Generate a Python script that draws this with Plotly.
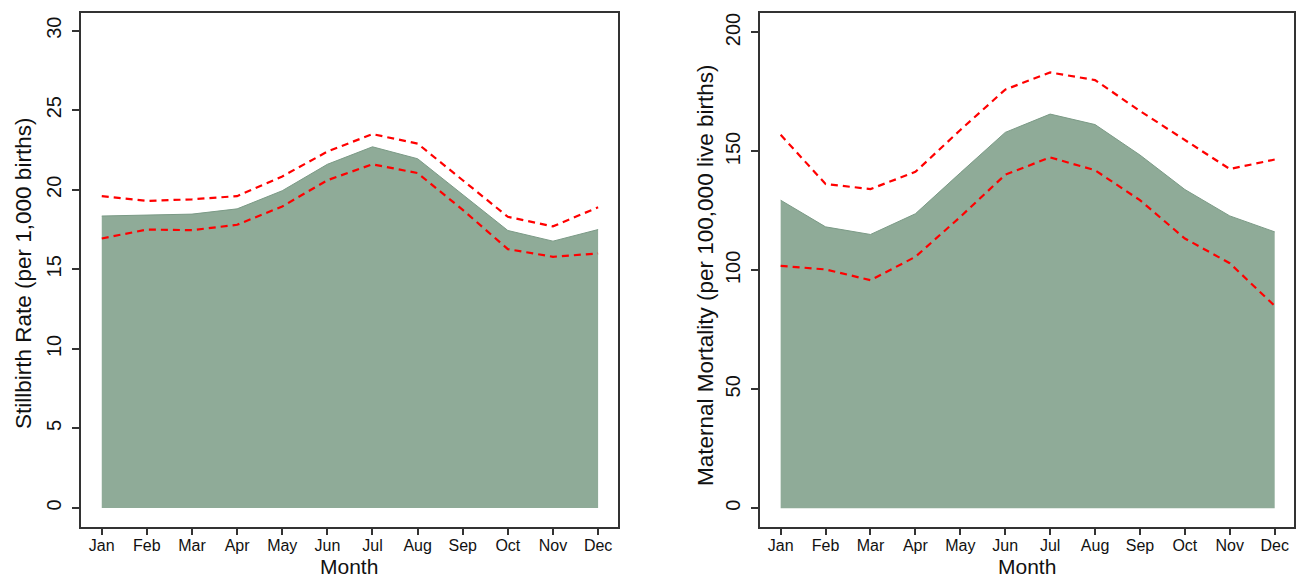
import plotly.graph_objects as go

months = ["Jan", "Feb", "Mar", "Apr", "May", "Jun", "Jul", "Aug", "Sep", "Oct", "Nov", "Dec"]

# Stillbirth rate (per 1,000 births)
sb_est = [18.35, 18.43, 18.47, 18.8, 19.94, 21.6, 22.7, 21.95, 19.7, 17.44, 16.77, 17.5]
sb_upper = [19.6, 19.3, 19.4, 19.6, 20.84, 22.4, 23.5, 22.9, 20.6, 18.3, 17.7, 18.9]
sb_lower = [16.94, 17.5, 17.46, 17.8, 18.95, 20.6, 21.6, 21.05, 18.74, 16.27, 15.79, 16.0]

# Maternal mortality (per 100,000 live births)
mm_est = [129.5, 118.3, 115.1, 123.8, 141.0, 158.0, 165.7, 161.3, 148.5, 134.0, 122.9, 116.2]
mm_upper = [157.0, 136.3, 134.2, 141.4, 159.0, 176.0, 183.2, 180.0, 167.0, 154.7, 142.6, 146.6]
mm_lower = [101.9, 100.4, 95.9, 105.7, 122.5, 140.2, 147.5, 142.1, 129.5, 113.4, 103.0, 85.1]

sb_ticks = [0, 5, 10, 15, 20, 25, 30]
mm_ticks = [0, 50, 100, 150, 200]

x_title = "Month"
sb_title = "Stillbirth Rate (per 1,000 births)"
mm_title = "Maternal Mortality (per 100,000 live births)"

FILL = "#8fab98"
EDGE = "#7b9a86"
RED = "#ff0000"
FRAME = "#333333"
TXT = "#111111"
FONT = "Liberation Sans, Arial, sans-serif"

W, H = 1297, 578

fig = go.Figure()

def add_panel(est, up, lo, xa, ya):
    fig.add_trace(go.Scatter(x=months, y=est, mode="lines", fill="tozeroy",
                             fillcolor=FILL, line=dict(color=EDGE, width=1),
                             xaxis=xa, yaxis=ya, showlegend=False, hoverinfo="skip"))
    for s in (up, lo):
        fig.add_trace(go.Scatter(x=months, y=s, mode="lines",
                                 line=dict(color=RED, width=2.2, dash="7px,5px"),
                                 xaxis=xa, yaxis=ya, showlegend=False))

add_panel(sb_est, sb_upper, sb_lower, "x", "y")
add_panel(mm_est, mm_upper, mm_lower, "x2", "y2")

xcommon = dict(
    type="category", categoryorder="array", categoryarray=months,
    range=[-0.46, 11.43], showgrid=False, zeroline=False,
    showline=True, linecolor=FRAME, linewidth=1.5, mirror=True,
    ticks="outside", ticklen=7, tickcolor=FRAME, tickwidth=1.5,
    ticklabelstandoff=-3,
    tickfont=dict(family=FONT, size=16, color=TXT),
    automargin=False,
)
ycommon = dict(
    showgrid=False, zeroline=False,
    showline=True, linecolor=FRAME, linewidth=1.5, mirror=True,
    ticks="outside", ticklen=7, tickcolor=FRAME, tickwidth=1.5,
    tickangle=-90, ticklabelstandoff=3,
    tickfont=dict(family=FONT, size=20, color=TXT),
    automargin=False,
)

top = 1 - 12.5 / H
bot = 1 - 526.5 / H
L_DOM = [81 / W, 617.5 / W]
R_DOM = [760 / W, 1294 / W]

title_font = dict(family=FONT, size=22.5, color=TXT)
annotations = [
    dict(text=x_title, xref="paper", yref="paper", x=sum(L_DOM) / 2, y=1 - 566 / H,
         xanchor="center", yanchor="middle", showarrow=False, font=dict(title_font, size=21)),
    dict(text=x_title, xref="paper", yref="paper", x=sum(R_DOM) / 2, y=1 - 566 / H,
         xanchor="center", yanchor="middle", showarrow=False, font=dict(title_font, size=21)),
    dict(text=sb_title, xref="paper", yref="paper", x=24 / W, y=1 - 274 / H, textangle=-90,
         xanchor="center", yanchor="middle", showarrow=False, font=title_font),
    dict(text=mm_title, xref="paper", yref="paper", x=705 / W, y=1 - 276 / H, textangle=-90,
         xanchor="center", yanchor="middle", showarrow=False, font=title_font),
]

fig.update_layout(
    width=W, height=H,
    margin=dict(l=0, r=0, t=0, b=0),
    paper_bgcolor="white", plot_bgcolor="white",
    font=dict(family=FONT),
    xaxis=dict(xcommon, domain=L_DOM, anchor="y"),
    yaxis=dict(ycommon, domain=[bot, top], anchor="x", range=[-1.16, 31.14], tickvals=sb_ticks),
    xaxis2=dict(xcommon, domain=R_DOM, anchor="y2"),
    yaxis2=dict(ycommon, domain=[bot, top], anchor="x2", range=[-7.65, 208.4], tickvals=mm_ticks),
    annotations=annotations,
)

fig.write_html(
    "out.html",
    config={"displayModeBar": False},
    post_script="document.body.style.margin='0';document.body.style.overflow='hidden';",
)
